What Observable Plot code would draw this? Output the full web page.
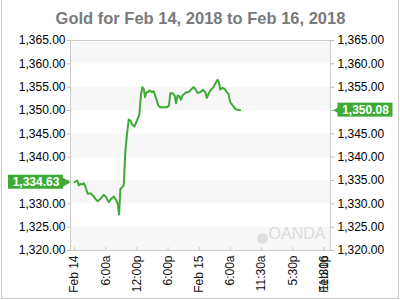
<!DOCTYPE html>
<html><head><meta charset="utf-8">
<script src="https://cdn.jsdelivr.net/npm/d3@7"></script>
<script src="https://cdn.jsdelivr.net/npm/@observablehq/plot@0.6"></script>
<style>
body{margin:0;background:#fff;}
#wrap{position:relative;width:400px;height:300px;overflow:hidden;font-family:"Liberation Sans",Arial,sans-serif;}
#border{position:absolute;left:1px;right:1px;bottom:1px;top:-2px;border:1px solid #ccc;border-top:none;pointer-events:none;}
#wrap svg{position:absolute;left:0;top:0;}
</style></head><body><div id="wrap"><div id="border"></div></div>
<script>
const title = "Gold for Feb 14, 2018 to Feb 16, 2018";
// hours since Feb 14 00:00
const hours = [0,0.51,0.83,1.15,1.47,1.79,2.11,2.56,3.07,3.52,4.03,4.48,4.99,5.63,6.08,6.59,7.04,7.55,8.0,8.32,8.58,8.83,9.15,9.47,9.79,10.11,10.43,10.75,11.07,11.52,12.03,12.48,12.8,13.06,13.31,13.57,13.82,14.14,14.46,14.91,15.23,15.62,16.13,16.51,17.15,17.79,18.18,18.43,18.88,19.26,19.52,19.84,20.22,20.48,20.8,21.18,21.5,21.95,22.4,22.91,23.23,23.74,24.19,24.7,25.15,25.47,25.79,26.24,26.75,27.07,27.52,27.78,28.03,28.48,28.86,29.31,29.63,29.95,30.46,30.91,31.36,31.87];
const prices = [1334.63,1335.0,1333.93,1334.29,1334.14,1334.43,1333.57,1332.14,1332.29,1331.79,1331.07,1330.57,1331.07,1331.93,1331.43,1330.36,1331.07,1331.57,1330.86,1330.0,1327.71,1333.21,1333.57,1333.93,1341.43,1345.0,1348.07,1347.86,1347.0,1346.57,1347.86,1349.14,1353.57,1355.0,1354.64,1352.86,1353.93,1353.93,1354.29,1353.93,1354.14,1352.86,1351.07,1350.71,1350.71,1350.71,1351.07,1353.71,1353.71,1353.21,1351.57,1353.21,1353.0,1352.29,1353.21,1353.57,1353.93,1353.93,1354.43,1355.0,1354.64,1353.71,1353.93,1354.43,1353.93,1352.71,1353.57,1354.43,1355.0,1355.71,1356.57,1356.07,1354.5,1354.86,1354.64,1353.93,1353.57,1351.79,1351.07,1350.36,1350.14,1350.08];
const yTicks = [1320,1325,1330,1335,1340,1345,1350,1355,1360,1365];
const bandLo = [1320,1330,1340,1350,1360];
const bandHi = [1325,1335,1345,1355,1365];
const xTickPos = [0,6,12,18,24,30,36,42,48,48];
const xTickLabels = ["Feb 14","6:00a","12:00p","6:00p","Feb 15","6:00a","11:30a","5:30p","11:30p","Feb 16"];
const xDomain = [-0.77, 49.25];
const yDomain = [1320, 1365];
const watermark = "OANDA";

const green = "#3dab35";
const fmt = d3.format(",.2f");
const series = hours.map((h, i) => ({h, p: prices[i]}));
const bands = bandLo.map((lo, i) => ({lo, hi: bandHi[i]}));
const xTicks = xTickPos.map((pos, i) => ({pos, label: xTickLabels[i]}));
const first = [series[0]];
const last = [{h: xDomain[1], p: series[series.length - 1].p}];
// tick labels hidden beneath the value boxes (as in the reference)
const leftFmt = t => Math.abs(t - first[0].p) < 2.5 ? "" : fmt(t);
const rightFmt = t => Math.abs(t - last[0].p) < 2.5 ? "" : fmt(t);

const chart = Plot.plot({
  width: 400, height: 300,
  marginTop: 40, marginBottom: 50, marginLeft: 70, marginRight: 70,
  style: {fontFamily: "'Liberation Sans', Arial, sans-serif", fontSize: "12px", color: "#000", background: "transparent", overflow: "visible"},
  x: {domain: xDomain, axis: null},
  y: {domain: yDomain, axis: null},
  marks: [
    Plot.rect(bands, {x1: xDomain[0], x2: xDomain[1], y1: "lo", y2: "hi", fill: "#f7f7f7"}),
    Plot.frame({stroke: "#cccccc"}),
    Plot.axisY(yTicks, {anchor: "left", tickFormat: leftFmt, tickSize: 3, tickPadding: 2, stroke: "#bbbbbb", fill: "#000", label: null, fontSize: 12}),
    Plot.axisY(yTicks, {anchor: "right", tickFormat: rightFmt, tickSize: 3, tickPadding: 4, stroke: "#bbbbbb", fill: "#000", label: null, fontSize: 12}),
    Plot.ruleX(xTicks, {x: "pos", stroke: "#cccccc", insetTop: 207}),
    Plot.text(xTicks, {x: "pos", text: "label", frameAnchor: "bottom", rotate: -90, textAnchor: "end", lineAnchor: "middle", dy: 5, fill: "#111", fontSize: 12}),
    Plot.text([watermark], {frameAnchor: "bottom-right", text: d => d, textAnchor: "end", dx: -5, dy: -12, fill: "#dcdcdc", fontSize: 16}),
    Plot.dot([watermark], {frameAnchor: "bottom-right", dx: -68, dy: -12, r: 5.5, fill: "#e0e0e0"}),
    Plot.line(series, {x: "h", y: "p", stroke: green, strokeWidth: 2}),
    // open label
    Plot.rect(first, {x1: "h", x2: "h", y1: "p", y2: "p", insetLeft: -66, insetRight: 11, insetTop: -7, insetBottom: -7, fill: green}),
    Plot.dot(first, {x: "h", y: "p", symbol: "triangle", r: 4, rotate: 90, dx: -10, fill: green}),
    Plot.text(first, {x: "h", y: "p", text: d => fmt(d.p), dx: -38.5, fill: "white", fontWeight: "bold", fontSize: 12}),
    // last label
    Plot.rect(last, {x1: "h", x2: "h", y1: "p", y2: "p", insetLeft: 7.5, insetRight: -62.5, insetTop: -7, insetBottom: -7, fill: green}),
    Plot.dot(last, {x: "h", y: "p", symbol: "triangle", r: 4, rotate: -90, dx: 9, fill: green}),
    Plot.text(last, {x: "h", y: "p", text: d => fmt(d.p), dx: 35, fill: "white", fontWeight: "bold", fontSize: 12}),
    // title
    Plot.text([title], {frameAnchor: "top", text: d => d, dy: -28, fill: "#7a7a7a", fontWeight: "bold", fontSize: 16.5})
  ]
});
document.getElementById("wrap").appendChild(chart);
</script>
</body></html>
